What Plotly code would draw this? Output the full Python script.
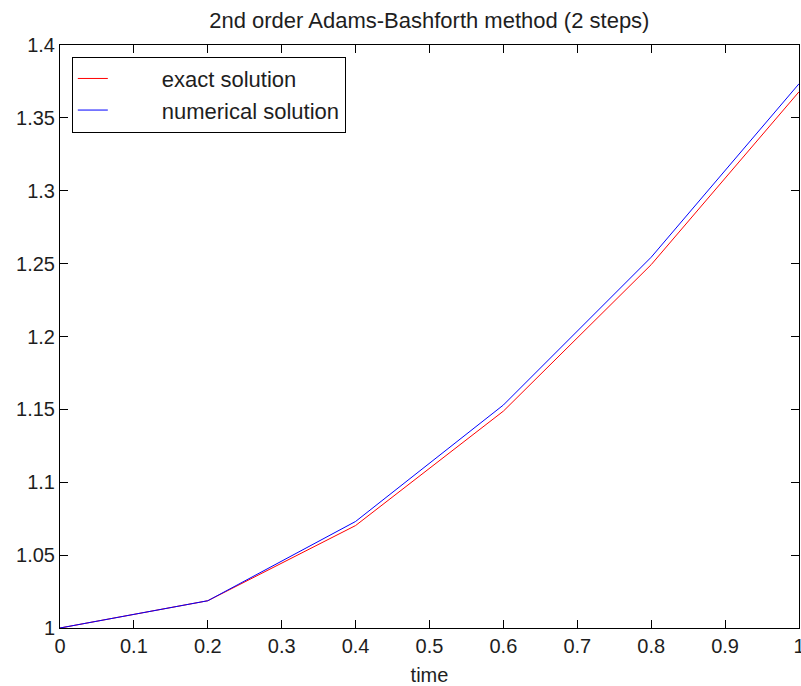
import plotly.graph_objects as go

t = [0.0, 0.2, 0.4, 0.6, 0.8, 1.0]
exact_solution = [1.0, 1.0187, 1.0703, 1.1488, 1.2493, 1.3679]
numerical_solution = [1.0, 1.0187, 1.0731, 1.1530, 1.2544, 1.3734]

x_ticks = [0, 0.1, 0.2, 0.3, 0.4, 0.5, 0.6, 0.7, 0.8, 0.9, 1]
y_ticks = [1, 1.05, 1.1, 1.15, 1.2, 1.25, 1.3, 1.35, 1.4]

font_family = "Liberation Sans, Arial, sans-serif"
text_color = "#1e1e1e"
pad = "\u00a0" * 8

fig = go.Figure()
fig.add_trace(go.Scatter(x=t, y=exact_solution, mode="lines", name=pad + "exact solution",
                         line=dict(color="#ff0000", width=1)))
fig.add_trace(go.Scatter(x=t, y=numerical_solution, mode="lines", name=pad + "numerical solution",
                         line=dict(color="#0000ff", width=1)))

axis_common = dict(showline=True, linecolor="black", linewidth=1, mirror="ticks",
                   ticks="inside", ticklen=8, tickcolor="black", showgrid=False,
                   zeroline=False, ticklabeloverflow="allow", automargin=False,
                   tickfont=dict(family=font_family, size=20, color=text_color))

fig.update_layout(
    width=801, height=686,
    margin=dict(l=60, r=2, t=45, b=58, autoexpand=False),
    paper_bgcolor="white", plot_bgcolor="white",
    title=dict(text="2nd order Adams-Bashforth method (2 steps)", x=0.536, xanchor="center",
               y=0.971, yanchor="middle",
               font=dict(family=font_family, size=22, color=text_color)),
    xaxis=dict(range=[0, 1], tickvals=x_ticks, ticktext=[f"{v:g}" for v in x_ticks],
               title=dict(text="time", font=dict(family=font_family, size=20, color=text_color),
                          standoff=12),
               **axis_common),
    yaxis=dict(range=[1, 1.4], tickvals=y_ticks, ticktext=[f"{v:g}" for v in y_ticks],
               **axis_common),
    legend=dict(x=0.016, y=0.98, xanchor="left", yanchor="top",
                bgcolor="white", bordercolor="black", borderwidth=1,
                font=dict(family=font_family, size=22, color=text_color)),
    showlegend=True,
)

fig.write_html("out.html")
